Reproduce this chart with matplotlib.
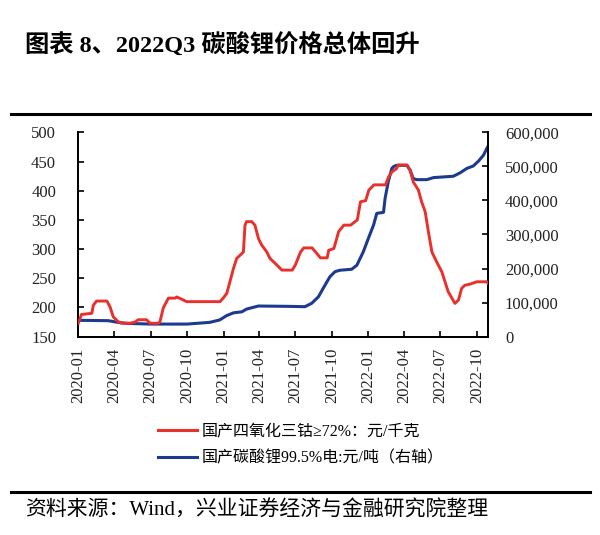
import pandas as pd
import numpy as np
import matplotlib
matplotlib.use('Agg')
import matplotlib.pyplot as plt
import matplotlib.dates as mdates
from matplotlib.lines import Line2D
from matplotlib.ticker import FuncFormatter

# 国产四氧化三钴 >=72% (元/千克), left axis
cobalt_dates = ['2020-01-01', '2020-01-09', '2020-02-04', '2020-02-08', '2020-02-16', '2020-03-13',
                '2020-03-21', '2020-03-29', '2020-04-10', '2020-04-19', '2020-05-10', '2020-05-23',
                '2020-05-31', '2020-06-21', '2020-06-30', '2020-07-21', '2020-07-25', '2020-08-02',
                '2020-08-15', '2020-09-01', '2020-09-05', '2020-09-18', '2020-09-30', '2020-12-23',
                '2020-12-31', '2021-01-09', '2021-01-17', '2021-01-26', '2021-02-03', '2021-02-20',
                '2021-02-24', '2021-02-28', '2021-03-13', '2021-03-21', '2021-03-30', '2021-04-07',
                '2021-04-20', '2021-04-28', '2021-05-15', '2021-05-28', '2021-06-23', '2021-07-01',
                '2021-07-14', '2021-07-22', '2021-08-12', '2021-08-21', '2021-09-02', '2021-09-19',
                '2021-09-23', '2021-10-06', '2021-10-18', '2021-10-31', '2021-11-17', '2021-12-04',
                '2021-12-12', '2021-12-25', '2022-01-02', '2022-01-15', '2022-02-13', '2022-02-21',
                '2022-03-01', '2022-03-13', '2022-03-17', '2022-04-08', '2022-04-16', '2022-04-24',
                '2022-05-07', '2022-05-15', '2022-05-24', '2022-06-01', '2022-06-10', '2022-06-22',
                '2022-07-05', '2022-07-13', '2022-07-21', '2022-08-07', '2022-08-16', '2022-08-24',
                '2022-09-01', '2022-09-14', '2022-10-01', '2022-10-26', '2022-10-30']
cobalt_vals = [173, 188, 190, 204, 211, 211,
               201, 184, 176, 173, 173, 175,
               179, 179, 173, 173, 176, 199,
               216, 216, 218, 214, 210, 210,
               216, 224, 244, 267, 284, 295,
               341, 347, 347, 341, 318, 307,
               295, 284, 273, 264, 264, 273,
               295, 302, 302, 295, 285, 285,
               298, 301, 330, 341, 341, 350,
               381, 383, 401, 410, 410, 424,
               432, 438, 444, 444, 435, 415,
               401, 381, 364, 330, 295, 278,
               261, 244, 227, 207, 213, 233,
               238, 240, 244, 244, 241]

# 国产碳酸锂99.5%电 (元/吨), right axis
lithium_dates = ['2020-01-01', '2020-03-16', '2020-04-10', '2020-05-03', '2020-07-01', '2020-10-01',
                 '2020-11-27', '2020-12-22', '2021-01-09', '2021-01-26', '2021-02-16', '2021-02-28',
                 '2021-03-13', '2021-03-30', '2021-06-15', '2021-07-25', '2021-08-11', '2021-08-28',
                 '2021-09-09', '2021-09-26', '2021-10-09', '2021-10-21', '2021-11-20', '2021-12-03',
                 '2021-12-19', '2022-01-01', '2022-01-14', '2022-01-22', '2022-02-08', '2022-02-12',
                 '2022-02-20', '2022-03-01', '2022-03-06', '2022-03-13', '2022-04-08', '2022-04-16',
                 '2022-04-24', '2022-05-03', '2022-05-28', '2022-06-14', '2022-08-03', '2022-08-20',
                 '2022-09-06', '2022-09-22', '2022-10-05', '2022-10-18', '2022-10-26', '2022-10-30']
lithium_vals = [48000, 47000, 42000, 39000, 37000, 37000,
                42000, 49000, 62000, 70000, 73000, 81000,
                85000, 90000, 89000, 88000, 98000, 117000,
                142000, 176000, 191000, 195000, 198000, 210000,
                249000, 289000, 328000, 362000, 365000, 406000,
                455000, 494000, 500000, 503000, 503000, 489000,
                464000, 461000, 461000, 467000, 471000, 481000,
                494000, 501000, 515000, 533000, 552000, 560000]

tick_dates = ['2020-01-01', '2020-04-01', '2020-07-01', '2020-10-01', '2021-01-01', '2021-04-01',
              '2021-07-01', '2021-10-01', '2022-01-01', '2022-04-01', '2022-07-01', '2022-10-01']

title = '图表 8、2022Q3 碳酸锂价格总体回升'
label_cobalt = '国产四氧化三钴≥72%：元/千克'
label_lithium = '国产碳酸锂99.5%电:元/吨（右轴）'
source = '资料来源：Wind，兴业证券经济与金融研究院整理'

red = '#e8302c'
blue = '#1c3a8e'
mixed = ['Liberation Serif', 'Noto Sans CJK SC']

fig = plt.figure(figsize=(6, 5.35), dpi=100)
ax = fig.add_axes([0.1305, 0.3707, 0.6833, 0.382])
ax2 = ax.twinx()

ax.plot(pd.to_datetime(cobalt_dates), cobalt_vals, color=red, lw=2.1, zorder=3)
ax2.plot(pd.to_datetime(lithium_dates), lithium_vals, color=blue, lw=2.2, zorder=2)
ax.set_zorder(ax2.get_zorder() + 1)
ax.patch.set_visible(False)

ax.set_xlim(pd.Timestamp('2020-01-01'), pd.Timestamp('2022-10-30'))
ax.set_ylim(150, 500)
ax.set_yticks(np.arange(150, 501, 50))
ax2.set_ylim(0, 600000)
ax2.set_yticks(np.arange(0, 600001, 100000))
ax2.yaxis.set_major_formatter(FuncFormatter(lambda v, p: f'{int(v):,}'))

ax.set_xticks(pd.to_datetime(tick_dates))
ax.xaxis.set_major_formatter(mdates.DateFormatter('%Y-%m'))

for a in (ax, ax2):
    a.spines['top'].set_visible(False)
    for s in ('left', 'right', 'bottom'):
        a.spines[s].set_linewidth(1.3)
        a.spines[s].set_color('black')

ax.tick_params(axis='y', direction='in', length=4, width=1.2, pad=16, labelsize=12)
ax.tick_params(axis='x', direction='in', length=4, width=1.2, pad=8, labelsize=12, rotation=90)
ax2.tick_params(axis='y', direction='in', length=4, width=1.2, pad=12, labelsize=12)
for lab in ax.get_xticklabels() + ax.get_yticklabels() + ax2.get_yticklabels():
    lab.set_family('Liberation Serif')
    lab.set_color('#222222')

# title and rules
fig.text(0.042, 0.914, title, family=mixed, fontsize=17.5, fontweight='bold', va='center', ha='left')
fig.add_artist(Line2D([0.018, 0.983], [0.786, 0.786], color='black', lw=2.2))
fig.add_artist(Line2D([0.018, 0.983], [0.081, 0.081], color='black', lw=2.2))
fig.text(0.042, 0.045, source, family=mixed, fontsize=15, va='center', ha='left')

handles = [Line2D([], [], color=red, lw=2.2), Line2D([], [], color=blue, lw=2.2)]
fig.legend(handles, [label_cobalt, label_lithium], loc='center left',
           bbox_to_anchor=(0.24, 0.168), frameon=False, prop={'family': mixed, 'size': 11.5},
           handlelength=2.4, handletextpad=0.3, labelspacing=0.65)

fig.savefig('out.png', dpi=100)
